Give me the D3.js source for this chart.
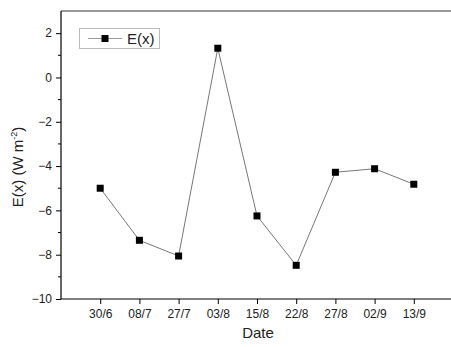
<!DOCTYPE html>
<html>
<head>
<meta charset="utf-8">
<script src="https://cdn.jsdelivr.net/npm/d3@7"></script>
<style>
  body { margin: 0; background: #fff; }
  text { font-family: "Liberation Sans", Arial, sans-serif; }
</style>
</head>
<body>
<div id="chart"></div>
<script>
// data
const dates = ["30/6", "08/7", "27/7", "03/8", "15/8", "22/8", "27/8", "02/9", "13/9"];
const ex = [-5.0, -7.35, -8.06, 1.32, -6.25, -8.48, -4.28, -4.12, -4.82];
const yTicks = [2, 0, -2, -4, -6, -8, -10];

const width = 451, height = 347;
const margin = {top: 11, right: -2, bottom: 48, left: 61};

const svg = d3.select("#chart").append("svg")
  .attr("width", width)
  .attr("height", height);

const x = d3.scaleLinear().domain([-1, 9]).range([margin.left, 453]);
const y = d3.scaleLinear().domain([-10, 3]).range([299, margin.top]);

// top frame line
svg.append("line")
  .attr("x1", margin.left).attr("x2", width)
  .attr("y1", y(3)).attr("y2", y(3))
  .attr("stroke", "#777").attr("stroke-width", 1.5);

// minor y ticks
const yMinor = d3.range(-9, 3, 2);
svg.append("g").selectAll("line").data(yMinor).enter().append("line")
  .attr("x1", margin.left - 3).attr("x2", margin.left)
  .attr("y1", d => y(d)).attr("y2", d => y(d))
  .attr("stroke", "#000");

const yAxis = svg.append("g")
  .attr("transform", `translate(${margin.left},0)`)
  .call(d3.axisLeft(y).tickValues(yTicks).tickSize(5).tickPadding(4).tickSizeOuter(0));
yAxis.select(".domain").attr("stroke", "#000").attr("stroke-width", 1.2)
  .attr("d", `M0,${y(3)}V${y(-10)}`);
yAxis.selectAll("text").style("font-size", "12px").attr("fill", "#222");

const xAxis = svg.append("g")
  .attr("transform", `translate(0,${y(-10)})`)
  .call(d3.axisBottom(x).tickValues(d3.range(dates.length))
    .tickFormat(i => dates[i]).tickSize(5).tickPadding(5).tickSizeOuter(0));
xAxis.select(".domain").attr("stroke", "#000").attr("stroke-width", 1.2)
  .attr("d", `M${margin.left},0H${width}`);
xAxis.selectAll("text").style("font-size", "12px").attr("fill", "#222");

// axis titles
svg.append("text")
  .attr("x", 258).attr("y", 338)
  .attr("text-anchor", "middle")
  .style("font-size", "15px").attr("fill", "#222")
  .text("Date");

const yt = svg.append("text")
  .attr("transform", "translate(23,167) rotate(-90)")
  .attr("text-anchor", "middle")
  .style("font-size", "15px").attr("fill", "#222");
yt.append("tspan").text("E(x) (W m");
yt.append("tspan").attr("dy", -6).style("font-size", "9px").text("-2");
yt.append("tspan").attr("dy", 6).text(")");

// series line
const line = d3.line().x((d, i) => x(i)).y(d => y(d));
svg.append("path")
  .datum(ex)
  .attr("d", line)
  .attr("fill", "none")
  .attr("stroke", "#777")
  .attr("stroke-width", 1);

svg.append("g").selectAll("rect").data(ex).enter().append("rect")
  .attr("x", (d, i) => x(i) - 3.5)
  .attr("y", d => y(d) - 3.5)
  .attr("width", 7).attr("height", 7)
  .attr("fill", "#000");

// legend
const lg = svg.append("g");
lg.append("rect")
  .attr("x", 79.5).attr("y", 28.5).attr("width", 80).attr("height", 20)
  .attr("fill", "#fff").attr("stroke", "#bbb");
lg.append("line")
  .attr("x1", 88).attr("x2", 122).attr("y1", 38.5).attr("y2", 38.5)
  .attr("stroke", "#999");
lg.append("rect")
  .attr("x", 101.5).attr("y", 35).attr("width", 7).attr("height", 7)
  .attr("fill", "#000");
lg.append("text")
  .attr("x", 127).attr("y", 44)
  .style("font-size", "15px").attr("fill", "#222")
  .text("E(x)");
</script>
</body>
</html>
